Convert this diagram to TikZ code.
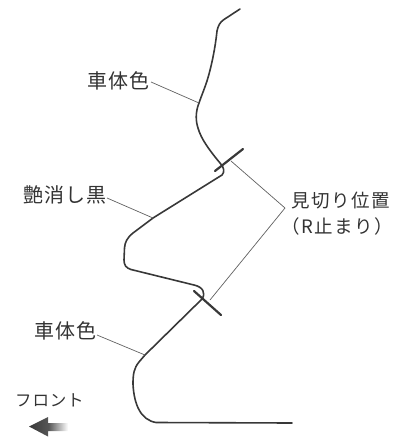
\documentclass[tikz,border=0pt]{standalone}
\usepackage{fontspec}
\newfontfamily\jpfont[LetterSpace=5]{Noto Sans CJK JP}
\newfontfamily\jpfontb[LetterSpace=8]{Noto Sans CJK JP}
\usetikzlibrary{calc}
\definecolor{ink}{gray}{0.22}
\definecolor{txt}{gray}{0.2}
\tikzset{
  profile/.style={draw=ink,line width=1.6pt,line cap=round,line join=round},
  tick/.style={draw=ink,line width=2.2pt,line cap=round},
  leader/.style={draw=ink!80,line width=0.7pt},
  lbl/.style={text=txt,inner sep=0pt,font=\jpfont\fontsize{20}{22}\selectfont},
}
\begin{document}
\begin{tikzpicture}[x=1pt,y=-1pt]
\useasboundingbox (0,0) rectangle (401,437);
% points on the profile
\coordinate (pA) at (199,103);
\coordinate (pB) at (153,218);
\coordinate (pC) at (145,355);
\coordinate (tA1) at (215,171);
\coordinate (tA2) at (243,149);
\coordinate (tB1) at (194,291);
\coordinate (tB2) at (221,315);
\coordinate (cutA) at (231,161);
\coordinate (cutB) at (210,300);
\coordinate (bend) at (285,208);
% profile
\path[profile] (240,9) -- (224,19.5) .. controls (220,22) and (218,26) .. (217,31)
 .. controls (215,50) and (211,68) .. (207,81) .. controls (204,90) and (201,97) .. (199,103)
 .. controls (195,113) and (196,122) .. (198,128) .. controls (201,139) and (210,151) .. (220,163)
 .. controls (224,167) and (225,172) .. (222,175) -- (pB) -- (133,233)
 .. controls (127,238) and (125,242) .. (124.5,248) -- (124,260)
 .. controls (124,265) and (126,268) .. (131,269.5) -- (194,285)
 .. controls (203,287) and (206,293) .. (202,299) -- (pC) -- (139,362)
 .. controls (134,368) and (133,374) .. (133,384)
 .. controls (134,405) and (141,420) .. (156,422.5) -- (292,423);
% ticks
\path[tick] (tA1) -- (tA2);
\path[tick] (tB1) -- (tB2);
% labels
\node[lbl,anchor=east] (body1) at (150,81) {車体色};
\node[lbl,anchor=east] (matte) at (107,195) {艶消し黒};
\node[lbl,anchor=east] (body2) at (97,331) {車体色};
\node[lbl,anchor=west,font=\jpfontb\fontsize{18.5}{20}\selectfont] (cut1) at (291,201) {見切り位置};
\node[lbl,anchor=west,font=\jpfontb\fontsize{18.5}{20}\selectfont] (cut2) at (281,226) {（R止まり）};
\node[lbl,anchor=west,font=\jpfont\fontsize{16.5}{18}\selectfont] (front) at (15,400) {フロント};
% leaders
\draw[leader] (151,82) -- (pA);
\draw[leader] (107,198) -- (pB);
\draw[leader] (97,335) -- (pC);
\draw[leader] (cutA) -- (bend) -- (cutB);
% arrow
\shade[left color=ink,right color=white,middle color=ink!85]
  (29,426.5) -- (48,417) -- (48,423) -- (68,423) -- (68,431) -- (48,431) -- (48,436.5) -- cycle;
\end{tikzpicture}
\end{document}
